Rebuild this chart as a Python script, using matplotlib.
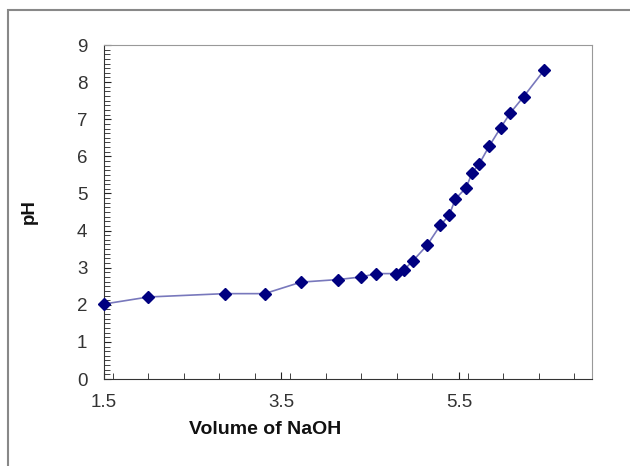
import matplotlib.pyplot as plt
from matplotlib.patches import Rectangle
from matplotlib.ticker import MultipleLocator

plt.rcParams['font.family'] = ['Liberation Sans', 'DejaVu Sans']

# titration data
volume = [1.5, 2.0, 2.86, 3.31, 3.72, 4.14, 4.40, 4.57, 4.79, 4.88, 4.98,
          5.14, 5.29, 5.39, 5.46, 5.58, 5.65, 5.73, 5.84, 5.97, 6.08, 6.23, 6.46]
ph = [2.02, 2.21, 2.30, 2.30, 2.61, 2.68, 2.75, 2.84, 2.84, 2.94, 3.18,
      3.60, 4.14, 4.41, 4.85, 5.15, 5.56, 5.80, 6.27, 6.77, 7.17, 7.61, 8.32]

xticks = [1.5, 3.5, 5.5]
yticks = list(range(0, 10))

fig = plt.figure(figsize=(6.3, 4.66), dpi=100)
ax = fig.add_axes([104/630, 1-379/466, (592-104)/630, (379-45)/466])

ax.plot(volume, ph, color='#7878bc', lw=1.2, zorder=2)
ax.plot(volume, ph, ls='none', marker='D', ms=6, color='#000080', zorder=3, clip_on=False)

ax.set_xlim(1.5, 7.0)
ax.set_ylim(0, 9)
ax.set_xticks(xticks)
ax.set_yticks(yticks)
ax.xaxis.set_minor_locator(MultipleLocator(0.4))
ax.yaxis.set_minor_locator(MultipleLocator(0.125))
ax.tick_params(axis='both', which='both', direction='in', color='#222222')
ax.tick_params(axis='both', which='major', length=5, labelsize=13.5, labelcolor='#333333')
ax.tick_params(axis='both', which='minor', length=4)
ax.tick_params(axis='x', which='major', pad=11)
ax.tick_params(axis='y', which='major', pad=12)

for s in ['top', 'right']:
    ax.spines[s].set_color('#999999')
for s in ['left', 'bottom']:
    ax.spines[s].set_color('#333333')

ax.set_xlabel('Volume of NaOH', fontsize=14, fontweight='bold', color='#111111')
ax.xaxis.set_label_coords(0.33, -0.125)
ax.set_ylabel('pH', fontsize=13.5, fontweight='bold', color='#111111')
ax.yaxis.set_label_coords(-0.135, 0.5)

# chart area border (cut off at right and bottom)
fig.patches.append(Rectangle((8/630, -0.2), 1.2, 1.2 - 10/466, transform=fig.transFigure,
                             fill=False, ec='#888888', lw=1.5, clip_on=False))

plt.savefig('out.png', dpi=100)
